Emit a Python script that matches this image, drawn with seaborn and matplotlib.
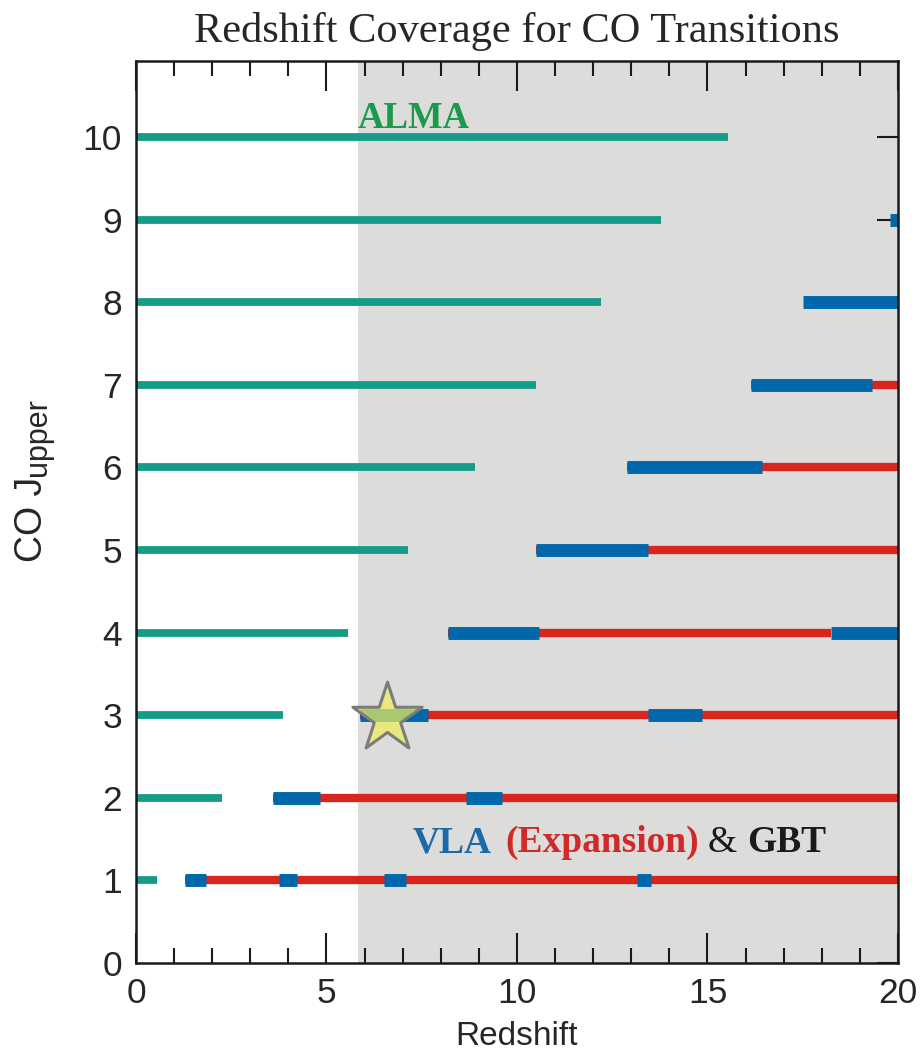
import numpy as np
import pandas as pd
import matplotlib
matplotlib.use("Agg")
import matplotlib.pyplot as plt
import seaborn as sns

# CO rotational transitions (upper J level)
j_levels = [1, 2, 3, 4, 5, 6, 7, 8, 9, 10]

# ALMA coverage: from z = 0 up to these redshifts
alma_end = [0.55, 2.26, 3.87, 5.56, 7.14, 8.90, 10.50, 12.20, 13.78, 15.54]

# Expanded VLA continuous coverage (red)
evla_j = [1, 2, 3, 4, 5, 6, 7]
evla_start = [1.29, 3.60, 5.88, 8.20, 10.51, 12.88, 16.14]
evla_end = [20.0, 20.0, 20.0, 18.23, 20.0, 20.0, 20.0]

# Current VLA / GBT windows (blue)
vla_j = [1, 1, 1, 1, 2, 2, 3, 3, 4, 4, 5, 6, 7, 8, 9]
vla_start = [1.29, 3.75, 6.52, 13.14, 3.60, 8.65, 5.88, 13.43, 8.20, 18.23,
             10.51, 12.88, 16.14, 17.51, 19.80]
vla_end = [1.83, 4.23, 7.08, 13.52, 4.83, 9.60, 7.66, 14.85, 10.58, 20.0,
           13.44, 16.42, 19.32, 20.0, 20.0]

# Highlighted source and the z > ~5.8 region
star_z, star_j = [6.6], [2.97]
shade_from = 5.83

x_ticks = [0, 5, 10, 15, 20]


def segments(js, starts, ends):
    rows = []
    for i, (j, a, b) in enumerate(zip(js, starts, ends)):
        rows.append({"z": a, "J": j, "seg": i})
        rows.append({"z": b, "J": j, "seg": i})
    return pd.DataFrame(rows)


alma_df = segments(j_levels, [0.0] * len(j_levels), alma_end)
evla_df = segments(evla_j, evla_start, evla_end)
vla_df = segments(vla_j, vla_start, vla_end)

sns.set_theme(style="ticks")
plt.rcParams["font.family"] = ["Liberation Sans", "DejaVu Sans"]
plt.rcParams["lines.solid_capstyle"] = "butt"

GREEN = "#149c88"
RED = "#d8251e"
BLUE = "#0068aa"

fig = plt.figure(figsize=(9.23, 10.53), dpi=100)
ax = fig.add_axes([0.1473, 0.0855, 0.8256, 0.8566])

ax.axvspan(shade_from, 20, color="#dcdcda", lw=0, zorder=0)

common = dict(x="z", y="J", units="seg", estimator=None, sort=False,
              legend=False, ax=ax, zorder=3)
sns.lineplot(data=alma_df, color=GREEN, linewidth=5.6, **common)
sns.lineplot(data=evla_df, color=RED, linewidth=6.0, **common)
sns.lineplot(data=vla_df, color=BLUE, linewidth=9.3, **common)

sns.scatterplot(x=star_z, y=star_j, marker="*", s=2750,
                color=(0.93, 0.93, 0.36, 0.72), edgecolor="#7c7c7c",
                linewidth=2.2, ax=ax, zorder=5, legend=False)

ax.set_xlim(0, 20)
ax.set_ylim(0.03, 10.92)
ax.set_xticks(x_ticks)
ax.set_xticks(np.arange(0, 21, 1), minor=True)
ax.set_yticks(np.arange(0, 11, 1))

ax.tick_params(axis="x", which="both", direction="in", top=True, bottom=True,
               width=1.5, color="#1a1a1a", labelsize=25.5, pad=10)
ax.tick_params(axis="x", which="major", length=21.5)
ax.tick_params(axis="x", which="minor", length=10.8)
ax.tick_params(axis="y", which="major", direction="in", left=False, right=True,
               labelleft=True, length=15, width=1.5, color="#1a1a1a",
               labelsize=25.5, pad=10)

for sp in ax.spines.values():
    sp.set_visible(True)
    sp.set_linewidth(1.8)
    sp.set_color("#1a1a1a")
    sp.set_zorder(4)

ax.set_xlabel("Redshift", fontsize=24, labelpad=8)
ax.set_ylabel("")
ax.set_title("Redshift Coverage for CO Transitions", fontsize=30.5,
             fontfamily="Liberation Serif", pad=14)

# y-axis label: "CO J" with a large subscript "upper", reading bottom to top
lab_main = fig.text(42 / 923, 1 - 562 / 1053, "CO J", fontsize=27,
                    rotation=90, rotation_mode="anchor",
                    ha="left", va="baseline")
fig.canvas.draw()
ext = lab_main.get_window_extent()
sub_y = ext.y1 / fig.bbox.height
fig.text(46 / 923, sub_y + 1 / 1053, "upper", fontsize=22,
         rotation=90, rotation_mode="anchor", ha="left", va="baseline")

serif = "Liberation Serif"
ax.text(5.83, 10.11, "ALMA", color="#1b9a4e", fontsize=26.5, fontweight="bold",
        fontfamily=serif, va="baseline", ha="left", zorder=6)

label_y = 1.34
ax.text(7.27, label_y, "VLA", color="#1a6aaa", fontsize=27, fontweight="heavy",
        fontfamily=serif, va="baseline", ha="left", zorder=6)
ax.text(9.70, label_y, "(Expansion)", color="#d02a28", fontsize=27,
        fontweight="bold", fontfamily=serif, va="baseline", ha="left", zorder=6)
ax.text(15.01, label_y, "&", color="#1a1a1a", fontsize=27,
        fontfamily=serif, va="baseline", ha="left", zorder=6)
ax.text(16.04, label_y, "GBT", color="#1a1a1a", fontsize=27, fontweight="bold",
        fontfamily=serif, va="baseline", ha="left", zorder=6)

fig.savefig("out.png", dpi=100)
